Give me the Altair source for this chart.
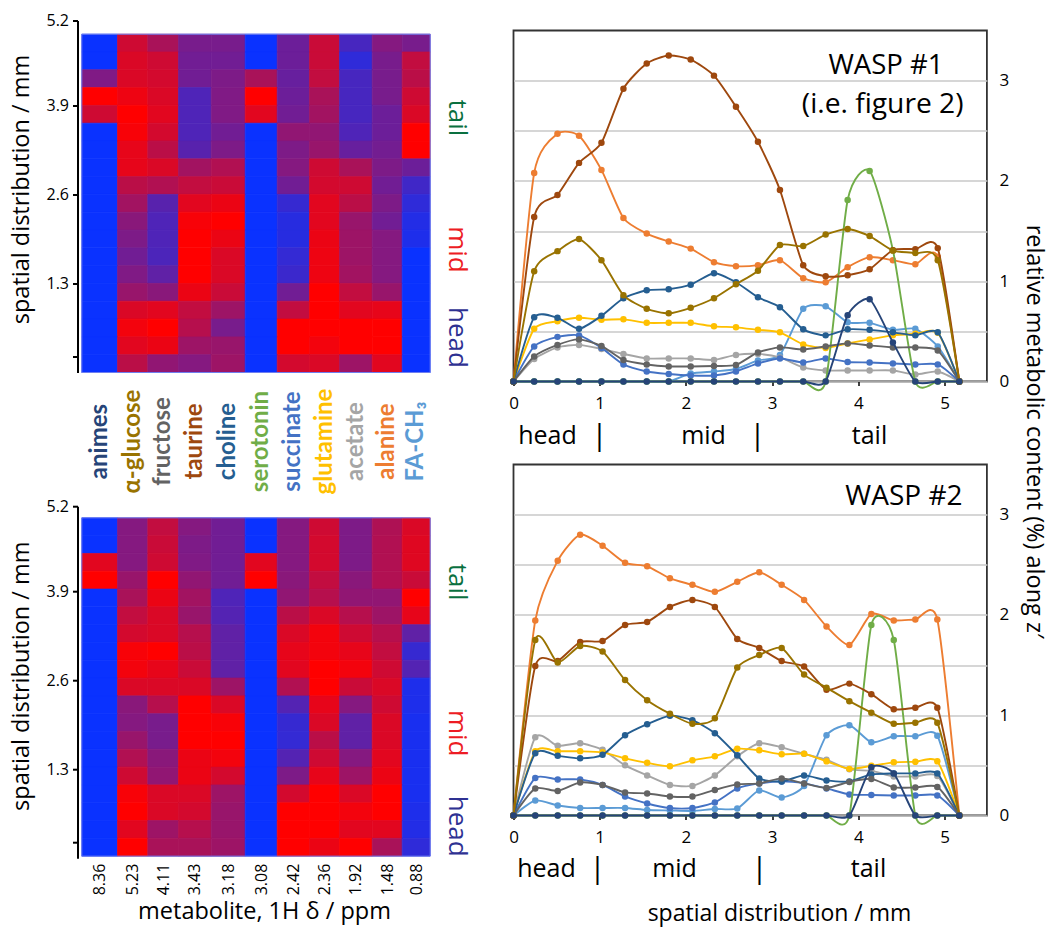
import altair as alt
import pandas as pd
import numpy as np

FONT = "Open Sans"

metabolites = ["animes", "α-glucose", "fructose", "taurine", "choline", "serotonin",
               "succinate", "glutamine", "acetate", "alanine", "FA-CH₃"]
ppm_labels = ["8.36", "5.23", "4.11", "3.43", "3.18", "3.08", "2.42", "2.36", "1.92", "1.48", "0.88"]
series_colors = ["#264478", "#997300", "#636363", "#9E480E", "#255E91", "#70AD47",
                 "#4472C4", "#FFC000", "#A5A5A5", "#ED7D31", "#5B9BD5"]
column_widths = [35.7, 30.3, 30.7, 32.7, 34, 32, 32.3, 30, 32.7, 30, 28]
column_start = 4.3
row_step = 0.26
y_tick_values = [5.14, 3.9, 2.6, 1.3, 0.23]
y_tick_labels = ["5.2", "3.9", "2.6", "1.3", ""]

heat_top = [
    [0, .8, .65, .45, .45, 0, .4, .78, .25, .5, .45],
    [0, .85, .8, .42, .42, 0, .4, .78, .15, .45, .75],
    [.48, .85, .82, .42, .47, .65, .38, .75, .25, .45, .72],
    [1, .93, .85, .28, .48, 1, .4, .65, .25, .45, .8],
    [.8, 1, .88, .28, .48, .88, .42, .62, .25, .4, .85],
    [0, .97, .82, .28, .42, 0, .55, .55, .28, .4, 1],
    [0, .9, .72, .32, .47, 0, .47, .58, .38, .43, 1],
    [0, .9, .85, .62, .68, 0, .5, .8, .65, .47, .4],
    [0, .72, .68, .75, .78, 0, .42, .82, .8, .42, .22],
    [0, .62, .32, .88, .92, 0, .18, .88, .72, .47, .15],
    [0, .52, .28, .97, 1, 0, .12, .88, .58, .42, .1],
    [0, .47, .28, 1, .92, 0, .12, .92, .6, .5, .08],
    [0, .42, .27, 1, .85, 0, .17, .93, .6, .5, 0],
    [0, .48, .35, 1, .85, 0, .2, .93, .62, .5, 0],
    [0, .58, .52, .92, .78, 0, .42, 1, .75, .58, 0],
    [0, .85, .88, .75, .6, 0, .75, 1, .88, .9, 0],
    [0, .95, 1, .7, .45, 0, 1, 1, 1, 1, 0],
    [0, .88, .92, .6, .58, 0, 1, .95, 1, 1, 0],
    [0, .72, .55, .5, .6, 0, .82, .85, .6, .88, 0],
]
heat_bottom = [
    [0, .5, .75, .5, .42, 0, .5, .8, .47, .67, .85],
    [0, .5, .78, .47, .42, 0, .5, .82, .47, .68, .87],
    [.88, .5, .8, .48, .42, .88, .5, .82, .47, .68, .87],
    [1, .58, 1, .55, .42, 1, .52, .75, .52, .68, .78],
    [0, .65, .92, .62, .28, 0, .55, .7, .55, .55, 1],
    [0, .75, .85, .58, .3, 0, .72, .85, .7, .6, .9],
    [0, .82, .85, .7, .35, 0, .85, .95, .8, .7, .35],
    [0, .97, 1, .72, .35, 0, .9, .95, .9, .75, .18],
    [0, .95, .9, .78, .35, 0, .88, 1, .95, .8, .3],
    [0, .85, .85, .85, .6, 0, .68, 1, .78, .85, .08],
    [0, .52, .7, 1, .85, 0, .3, .9, .5, .8, .08],
    [0, .5, .45, 1, .97, 0, .18, .85, .35, .85, .06],
    [0, .58, .45, 1, 1, 0, .17, .72, .35, .85, .06],
    [0, .68, .52, .92, .95, 0, .3, .8, .5, .88, .06],
    [0, .8, .55, .92, .82, 0, .47, .9, .6, .92, .06],
    [0, .97, .85, .85, .6, 0, .82, 1, .85, 1, .06],
    [0, 1, .85, .82, .58, 0, 1, 1, .95, 1, .08],
    [0, .88, .6, .7, .58, 0, 1, 1, .88, .88, .1],
    [0, 1, .65, .65, .6, 0, 1, .92, 1, .65, .15],
]

x_mm_1 = [0, .24, .51, .76, 1.02, 1.275, 1.545, 1.8, 2.055, 2.325, 2.58, 2.835, 3.09, 3.36, 3.62, 3.875, 4.13, 4.4, 4.66, 4.92, 5.17]
x_mm_2 = [0, .2525, .513, .773, 1.033, 1.294, 1.55, 1.814, 2.075, 2.335, 2.595, 2.85, 3.11, 3.37, 3.63, 3.895, 4.15, 4.41, 4.66, 4.915, 5.17]

wasp1 = {
    "animes":    [0, 0, 0, 0, 0, 0, 0, 0, 0, 0, 0, 0, 0, 0, 0, .66, .82, .39, 0, 0, 0],
    "α-glucose": [0, 1.10, 1.30, 1.42, 1.21, .86, .725, .68, .735, .83, .97, 1.105, 1.36, 1.35, 1.465, 1.52, 1.45, 1.305, 1.28, 1.21, 0],
    "fructose":  [0, .25, .365, .42, .355, .215, .17, .15, .15, .155, .165, .29, .34, .32, .35, .38, .36, .34, .34, .31, 0],
    "taurine":   [0, 1.64, 1.86, 2.18, 2.38, 2.92, 3.17, 3.25, 3.21, 3.05, 2.74, 2.39, 1.91, 1.16, 1.05, 1.06, 1.12, 1.31, 1.32, 1.33, 0],
    "choline":   [0, .64, .635, .525, .655, .83, .91, .92, .965, 1.08, .99, .84, .74, .52, .46, .52, .515, .49, .46, .49, 0],
    "serotonin": [0, 0, 0, 0, 0, 0, 0, 0, 0, 0, 0, 0, 0, 0, 0, 1.81, 2.10, 1.31, 0, 0, 0],
    "succinate": [0, .35, .445, .46, .335, .17, .10, .075, .06, .06, .10, .18, .23, .19, .23, .195, .19, .18, .17, .17, 0],
    "glutamine": [0, .525, .6, .635, .615, .62, .585, .585, .585, .55, .54, .515, .49, .37, .335, .38, .42, .46, .475, .485, 0],
    "acetate":   [0, .225, .34, .365, .325, .275, .23, .23, .23, .215, .265, .275, .24, .14, .11, .11, .11, .11, .07, .10, 0],
    "alanine":   [0, 2.08, 2.47, 2.45, 2.11, 1.63, 1.475, 1.395, 1.325, 1.19, 1.15, 1.16, 1.21, 1.03, .99, 1.14, 1.24, 1.21, 1.17, 1.245, 0],
    "FA-CH₃":    [0, 0, 0, 0, 0, 0, 0, 0, .08, .10, .125, .21, .265, .725, .75, .59, .585, .515, .525, .35, 0],
}
wasp2 = {
    "animes":    [0, 0, 0, 0, 0, 0, 0, 0, 0, 0, 0, 0, 0, 0, 0, 0, .48, .42, 0, 0, 0],
    "α-glucose": [0, 1.75, 1.525, 1.69, 1.635, 1.35, 1.15, 1.015, .915, .97, 1.475, 1.60, 1.67, 1.405, 1.275, 1.14, 1.025, .915, .925, .925, 0],
    "fructose":  [0, .27, .245, .33, .305, .23, .22, .19, .19, .255, .31, .32, .37, .32, .275, .335, .365, .28, .28, .285, 0],
    "taurine":   [0, 1.49, 1.54, 1.73, 1.74, 1.90, 1.93, 2.08, 2.15, 2.08, 1.76, 1.67, 1.54, 1.485, 1.255, 1.315, 1.21, 1.06, 1.075, 1.075, 0],
    "choline":   [0, .62, .595, .57, .605, .80, .91, .995, .95, .82, .60, .37, .34, .40, .35, .34, .41, .42, .42, .42, 0],
    "serotonin": [0, 0, 0, 0, 0, 0, 0, 0, 0, 0, 0, 0, 0, 0, 0, 0, 1.90, 1.75, 0, 0, 0],
    "succinate": [0, .375, .36, .36, .305, .19, .12, .075, .075, .13, .27, .32, .34, .32, .27, .21, .205, .20, .20, .20, 0],
    "glutamine": [0, .64, .64, .64, .63, .57, .525, .49, .55, .59, .665, .65, .61, .615, .54, .465, .495, .53, .535, .54, 0],
    "acetate":   [0, .78, .695, .72, .655, .50, .40, .305, .295, .40, .59, .72, .68, .615, .555, .46, .445, .39, .39, .395, 0],
    "alanine":   [0, 1.945, 2.54, 2.80, 2.69, 2.52, 2.485, 2.365, 2.30, 2.23, 2.33, 2.425, 2.30, 2.15, 1.885, 1.70, 2.01, 1.945, 1.955, 1.955, 0],
    "FA-CH₃":    [0, .15, .10, .075, .075, .075, .055, .05, .045, .065, .07, .25, .18, .295, .80, .90, .73, .79, .79, .795, 0],
}
draw_order = ["FA-CH₃", "alanine", "acetate", "glutamine", "succinate", "serotonin",
              "choline", "taurine", "fructose", "α-glucose", "animes"]

edges = np.concatenate([[column_start], column_start + np.cumsum(column_widths)])
centers = [round(float(v), 2) for v in (edges[:-1] + edges[1:]) / 2]
PANEL_W = 353
one = alt.Data(values=[{"a": 1}])


def js_list(items):
    return "[" + ",".join(repr(i) for i in items) + "]"


def note(text, x, y, size=23, angle=0, color="black", align="center", baseline="middle", weight="normal", font=FONT):
    return alt.Chart(one).mark_text(text=text, fontSize=size, angle=angle, color=color, align=align,
                                    baseline=baseline, fontWeight=weight, font=font).encode(
        x=alt.value(x), y=alt.value(y))


def heat_panel(rows, base, show_x, extras):
    recs = []
    for r, row in enumerate(rows):
        top = base + row_step * (len(rows) - r)
        for c, v in enumerate(row):
            recs.append({"x0": edges[c], "x1": edges[c + 1], "y0": top - row_step, "y1": top, "v": v})
    df = pd.DataFrame(recs)
    xaxis = alt.Axis(values=centers, title=None, domain=False, ticks=False, grid=False,
                     labels=show_x, labelAngle=270, labelFontSize=16, labelFont=FONT, labelColor="black",
                     labelPadding=5, labelBaseline="middle", labelAlign="right", labelOverlap=False,
                     labelExpr=f"{js_list(ppm_labels)}[indexof({js_list(centers)}, datum.value)]")
    yaxis = alt.Axis(values=y_tick_values, title=None, grid=False, domainColor="black", domainWidth=2,
                     tickColor="black", tickWidth=2, tickSize=5, labelFontSize=16, labelFont=FONT,
                     labelColor="black", labelPadding=4, labelOverlap=False,
                     labelExpr=f"{js_list(y_tick_labels)}[indexof({js_list(y_tick_values)}, datum.value)]")
    xs = alt.Scale(domain=[0, PANEL_W], nice=False, zero=False)
    ys = alt.Scale(domain=[0, 5.14], nice=False)
    colour_scale = alt.Scale(domain=[0, 1], range=["#0A32FF", "#FF0000"], interpolate="rgb")
    cells = alt.Chart(df).mark_rect(strokeWidth=0.7).encode(
        x=alt.X("x0:Q", scale=xs, axis=xaxis),
        x2="x1:Q",
        y=alt.Y("y0:Q", scale=ys, axis=yaxis),
        y2="y1:Q",
        color=alt.Color("v:Q", legend=None, scale=colour_scale),
        stroke=alt.Stroke("v:Q", legend=None, scale=colour_scale),
    )
    outline = alt.Chart(pd.DataFrame([{"x0": edges[0], "x1": edges[-1], "y0": base, "y1": base + row_step * len(rows)}])
                        ).mark_rect(filled=False, stroke="#6F7FF0", strokeWidth=1).encode(
        x=alt.X("x0:Q", scale=xs, axis=xaxis), x2="x1:Q", y=alt.Y("y0:Q", scale=ys, axis=yaxis), y2="y1:Q")
    return alt.layer(cells, outline, *extras).properties(
        width=PANEL_W, height=352, view=alt.ViewConfig(stroke=None))


def line_panel(series, xs, extras):
    xaxis = alt.Axis(values=[0, 1, 2, 3, 4, 5], title=None, grid=False, domain=False, tickColor="black",
                     tickWidth=1.5, tickSize=4, labelFontSize=17, labelFont=FONT, labelColor="black",
                     labelPadding=10, labelFlush=False, format="d")
    yaxis = alt.Axis(values=[0, .5, 1, 1.5, 2, 2.5, 3], orient="right", title=None, grid=True,
                     gridColor="#C8C8C8", gridWidth=1.6, domain=False, ticks=False, labelFontSize=17,
                     labelFont=FONT, labelColor="black", labelPadding=12, labelOverlap=False,
                     labelExpr="datum.value % 1 ? '' : format(datum.value, 'd')")
    layers = []
    for name in draw_order:
        col = series_colors[metabolites.index(name)]
        df = pd.DataFrame({"x": xs, "y": series[name]})
        enc = dict(x=alt.X("x:Q", scale=alt.Scale(domain=[0, 5.49], nice=False), axis=xaxis),
                   y=alt.Y("y:Q", scale=alt.Scale(domain=[0, 3.5], nice=False), axis=yaxis))
        layers.append(alt.Chart(df).mark_line(color=col, strokeWidth=1.9, interpolate="cardinal", tension=0.35,
                                              clip=False).encode(**enc))
        layers.append(alt.Chart(df).mark_point(color=col, filled=True, size=42, opacity=1).encode(**enc))
    return alt.layer(*layers, *extras).properties(
        width=473.4, height=351, view=alt.ViewConfig(stroke="#333333", strokeWidth=1.8))


label_notes = [
    alt.Chart(pd.DataFrame({"x": [centers[i]], "t": [metabolites[i]]})).mark_text(
        fontSize=24, font="Lato", fontWeight="bold", angle=270, color=series_colors[i], baseline="middle", align="center"
    ).encode(x=alt.X("x:Q", scale=alt.Scale(domain=[0, PANEL_W], nice=False, zero=False)), y=alt.value(421), text="t:N")
    for i in range(len(metabolites))
]

heat1 = heat_panel(heat_top, 0, False, [
    note("spatial distribution / mm", -56, 169, size=23.5, angle=270),
    note("tail", 379, 97.5, size=26, angle=90, color="#0A7040"),
    note("mid", 379, 229, size=26, angle=90, color="#ED1C24"),
    note("head", 379, 317, size=26, angle=90, color="#2E3192"),
    *label_notes,
])
heat2 = heat_panel(heat_bottom, 0.03, True, [
    note("spatial distribution / mm", -56, 170, size=23.5, angle=270),
    note("tail", 379, 76, size=26, angle=90, color="#0A7040"),
    note("mid", 379, 227, size=26, angle=90, color="#ED1C24"),
    note("head", 379, 320, size=26, angle=90, color="#2E3192"),
    note("metabolite, 1H δ / ppm", 187, 406, size=23.5),
])
line1 = line_panel(wasp1, x_mm_1, [
    note("WASP #1", 430, 43, size=27.5, align="right", baseline="alphabetic"),
    note("(i.e. figure 2)", 450, 82, size=28.2, align="right", baseline="alphabetic"),
    note("head", 34, 405, size=25), note("|", 86, 405, size=29), note("mid", 190, 405, size=25),
    note("|", 244, 405, size=29), note("tail", 356, 405, size=25),
    note("relative metabolic content (%) along z′", 520, 401, size=23.5, angle=90),
])
line2 = line_panel(wasp2, x_mm_2, [
    note("WASP #2", 449, 40, size=28, align="right", baseline="alphabetic"),
    note("head", 33, 404, size=25), note("|", 84, 404, size=29), note("mid", 161, 404, size=25),
    note("|", 246, 404, size=29), note("tail", 355, 404, size=25),
    note("spatial distribution / mm", 266, 449, size=23),
])

spacer = alt.Chart(one).mark_rule(opacity=0).encode(x=alt.value(0), y=alt.value(0)).properties(
    width=473.4, height=10, view=alt.ViewConfig(stroke=None))

left = alt.vconcat(heat1, heat2, spacing=133.7, bounds="flush")
right = alt.vconcat(spacer, alt.vconcat(line1, line2, spacing=83, bounds="flush"), spacing=0, bounds="flush")
chart = alt.hconcat(left, right, spacing=38).properties(
    padding={"left": 0.5, "top": 4.5, "right": 0, "bottom": 0},
    background="white",
).configure_view(stroke=None)

chart.save("out.html", embed_options={"renderer": "svg", "actions": False})
